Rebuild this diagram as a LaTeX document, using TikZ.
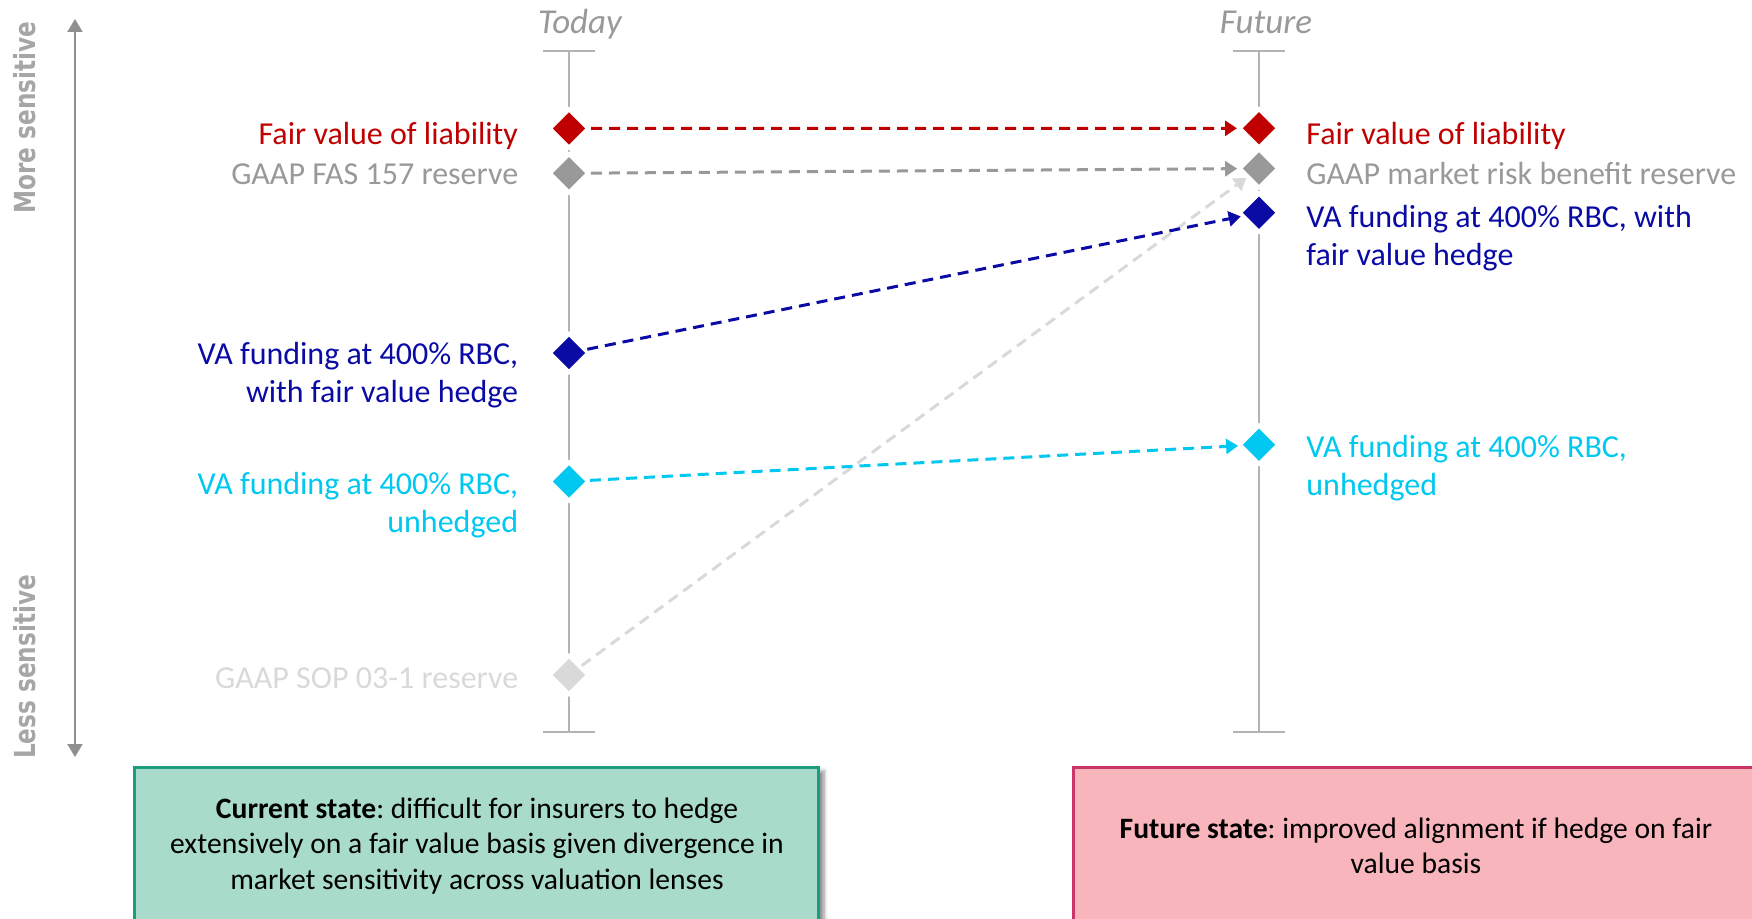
\documentclass[tikz,border=0pt]{standalone}
\usepackage{fontspec}
\setmainfont{Carlito}
\newfontfamily\vfont{DejaVu Sans}
\usetikzlibrary{shapes.geometric,arrows.meta,shadows.blur}
\frenchspacing
\definecolor{cRed}{HTML}{C00000}
\definecolor{cGray}{HTML}{999999}
\definecolor{cBlue}{HTML}{0A0AA5}
\definecolor{cCyan}{HTML}{00C8F0}
\definecolor{cLight}{HTML}{D9D9D9}
\definecolor{cAxis}{HTML}{B3B3B3}
\definecolor{cArrow}{HTML}{8F8F8F}
\definecolor{cSide}{HTML}{A6A6A6}
\definecolor{gFill}{HTML}{A8DBC9}
\definecolor{gLine}{HTML}{1A9E7E}
\definecolor{pFill}{HTML}{F8B6BC}
\definecolor{pLine}{HTML}{CC3366}
\tikzset{
  dia/.style={diamond, aspect=1, inner sep=0pt, minimum width=20pt, minimum height=20pt, draw=white, line width=2pt, fill=#1},
  lbl/.style={inner sep=0pt, font=\fontsize{16pt}{19pt}\selectfont},
  conn/.style={line width=1.5pt, dash pattern=on 5.5pt off 3.5pt, -{Triangle[length=6pt,width=7.5pt]}},
  axisln/.style={draw=cAxis, line width=1pt},
  boxtxt/.style={inner sep=0pt, align=center, font=\fontsize{14.8pt}{17.6pt}\selectfont},
  hdr/.style={inner sep=0pt, text=cGray, font=\fontsize{17.5pt}{20pt}\selectfont\itshape},
  side/.style={inner sep=0pt, text=cSide, rotate=90, font=\vfont\bfseries\fontsize{14.5pt}{16pt}\selectfont}
}
\begin{document}
\begin{tikzpicture}[x=0.5pt,y=-0.5pt]
\useasboundingbox (0,0) rectangle (1752,919);
% left sensitivity arrow
\coordinate (aTop) at (75,19);
\coordinate (aBot) at (75,757);
\draw[draw=cArrow, line width=1pt, {Triangle[length=6.5pt,width=7.5pt]}-{Triangle[length=6.5pt,width=7.5pt]}] (aTop) -- (aBot);
\node[side] (more) at (25,117.5) {\scalebox{0.8}[1]{More sensitive}};
\node[side] (less) at (25,667) {\scalebox{0.8}[1]{Less sensitive}};
% time axes
\coordinate (tTop) at (569,51);
\coordinate (tBot) at (569,731.5);
\coordinate (fTop) at (1259,51);
\coordinate (fBot) at (1259,731.5);
\draw[axisln] (tTop) -- (tBot);
\draw[axisln] (fTop) -- (fBot);
\draw[axisln] ([xshift=-13pt]tTop) -- ([xshift=13pt]tTop);
\draw[axisln] ([xshift=-13pt]tBot) -- ([xshift=13pt]tBot);
\draw[axisln] ([xshift=-13pt]fTop) -- ([xshift=13pt]fTop);
\draw[axisln] ([xshift=-13pt]fBot) -- ([xshift=13pt]fBot);
\node[hdr, anchor=base] (today) at (580,34) {Today};
\node[hdr, anchor=base] (future) at (1266,34) {Future};
% diamonds
\node[dia=cRed] (tR) at (569,128.5) {};
\node[dia=cGray] (tG) at (569,173.3) {};
\node[dia=cBlue] (tB) at (569,353) {};
\node[dia=cCyan] (tC) at (569,481.5) {};
\node[dia=cLight] (tL) at (569,675) {};
\node[dia=cRed] (fR) at (1259,128.3) {};
\node[dia=cGray] (fG) at (1259,168.5) {};
\node[dia=cBlue] (fB) at (1259,212.7) {};
\node[dia=cCyan] (fC) at (1259,444.7) {};
% connectors
\draw[conn, cLight] (tL) -- (fG);
\draw[conn, cRed] (tR) -- (fR);
\draw[conn, cGray] (tG) -- (fG);
\draw[conn, cBlue] (tB) -- (fB);
\draw[conn, cCyan] (tC) -- (fC);
% left labels (base anchor = last line baseline)
\node[lbl, anchor=base east, text=cRed] (lR) at (518.5,144.5) {Fair value of liability};
\node[lbl, anchor=base east, text=cGray] (lG) at (518.5,185) {GAAP FAS 157 reserve};
\node[lbl, anchor=base east, align=right, text=cBlue] (lB) at (518.5,403) {VA funding at 400\% RBC,\\with fair value hedge};
\node[lbl, anchor=base east, align=right, text=cCyan] (lC) at (518.5,533) {VA funding at 400\% RBC,\\unhedged};
\node[lbl, anchor=base east, text=cLight] (lL) at (518.5,688.5) {GAAP SOP 03-1 reserve};
% right labels
\node[lbl, anchor=base west, text=cRed] (rR) at (1306,144.5) {Fair value of liability};
\node[lbl, anchor=base west, text=cGray] (rG) at (1306,185) {GAAP market risk benefit reserve};
\node[lbl, anchor=base west, align=left, text=cBlue] (rB) at (1306,266) {VA funding at 400\% RBC, with\\fair value hedge};
\node[lbl, anchor=base west, align=left, text=cCyan] (rC) at (1306,496) {VA funding at 400\% RBC,\\unhedged};
% boxes
\draw[fill=gFill, draw=gLine, line width=1.5pt, blur shadow={shadow xshift=3pt, shadow yshift=-2pt, shadow blur steps=6, shadow opacity=45}] (134,767) rectangle (818,1000);
\draw[fill=pFill, draw=pLine, line width=1.5pt] (1073,767) rectangle (1800,1000);
\node[boxtxt, anchor=base] (curtxt) at (477,889) {\textbf{Current state}: difficult for insurers to hedge\\extensively on a fair value basis given divergence in\\market sensitivity across valuation lenses};
\node[boxtxt, anchor=base] (futtxt) at (1416,873.5) {\textbf{Future state}: improved alignment if hedge on fair\\value basis};
\end{tikzpicture}
\end{document}
